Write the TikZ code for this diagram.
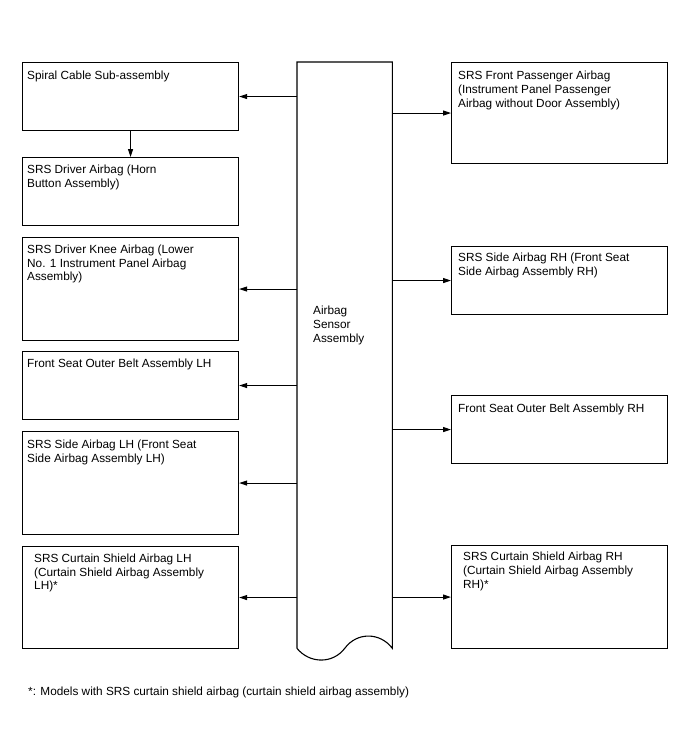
\documentclass[tikz,border=0pt]{standalone}
\usepackage{fontspec}
\setmainfont{Liberation Sans}
\usetikzlibrary{arrows.meta,positioning}
\begin{document}
\begin{tikzpicture}[x=1pt, y=-1pt, >={Triangle[length=8pt,width=5pt]},
    box/.style={draw, line width=1.1pt, rectangle, minimum width=216pt, anchor=north west, inner sep=0pt},
    lbl/.style={anchor=north west, inner sep=0pt, align=left, font=\fontsize{11.8}{13.8}\selectfont},
    link/.style={->, line width=1pt}]
      \useasboundingbox (0,0) rectangle (688,755);
      \node[minimum width=95pt, minimum height=586pt, anchor=north west, inner sep=0pt] (sensor) at (297,62) {};
      \draw[line width=1.1pt] (sensor.south west) -- (sensor.north west) -- (sensor.north east) -- (sensor.south east)
        .. controls (380,632) and (357,632) .. (345,648) .. controls (333,664) and (310,664) .. (sensor.south west);
      \node[lbl] (sensortxt) at (313,306) {Airbag\\Sensor\\Assembly};
      \node[box, minimum height=68pt] (spiral) at (22,62) {};
      \node[box, minimum height=68pt] (driver) at (22,157) {};
      \node[box, minimum height=103pt] (knee) at (22,237) {};
      \node[box, minimum height=68pt] (beltlh) at (22,351) {};
      \node[box, minimum height=103pt] (sidelh) at (22,431) {};
      \node[box, minimum height=102pt] (curtainlh) at (22,546) {};
      \node[box, minimum height=101pt] (passenger) at (451,62) {};
      \node[box, minimum height=68pt] (siderh) at (451,246) {};
      \node[box, minimum height=68pt] (beltrh) at (451,395) {};
      \node[box, minimum height=103pt] (curtainrh) at (451,545) {};
      \node[lbl, below right=8.5pt and 5pt of spiral.north west] (spiraltxt) {Spiral Cable Sub-assembly};
      \node[lbl, below right=8pt and 5pt of driver.north west] (drivertxt) {SRS Driver Airbag (Horn\\Button Assembly)};
      \node[lbl, below right=7.5pt and 5pt of knee.north west] (kneetxt) {SRS Driver Knee Airbag (Lower\\No. 1 Instrument Panel Airbag\\Assembly)};
      \node[lbl, below right=8pt and 5pt of beltlh.north west] (beltlhtxt) {Front Seat Outer Belt Assembly LH};
      \node[lbl, below right=8.5pt and 5pt of sidelh.north west] (sidelhtxt) {SRS Side Airbag LH (Front Seat\\Side Airbag Assembly LH)};
      \node[lbl, below right=7.5pt and 12pt of curtainlh.north west] (curtainlhtxt) {SRS Curtain Shield Airbag LH\\(Curtain Shield Airbag Assembly\\LH)*};
      \node[lbl, below right=9pt and 7pt of passenger.north west] (passengertxt) {SRS Front Passenger Airbag\\(Instrument Panel Passenger\\Airbag without Door Assembly)};
      \node[lbl, below right=7pt and 7pt of siderh.north west] (siderhtxt) {SRS Side Airbag RH (Front Seat\\Side Airbag Assembly RH)};
      \node[lbl, below right=9pt and 7pt of beltrh.north west] (beltrhtxt) {Front Seat Outer Belt Assembly RH};
      \node[lbl, below right=7pt and 12pt of curtainrh.north west] (curtainrhtxt) {SRS Curtain Shield Airbag RH\\(Curtain Shield Airbag Assembly\\RH)*};
      \draw[link] (spiral.east -| sensor.west) -- (spiral.east);
      \draw[link] (spiral.south) -- (driver.north);
      \draw[link] (knee.east -| sensor.west) -- (knee.east);
      \draw[link] (beltlh.east -| sensor.west) -- (beltlh.east);
      \draw[link] (sidelh.east -| sensor.west) -- (sidelh.east);
      \draw[link] (curtainlh.east -| sensor.west) -- (curtainlh.east);
      \draw[link] (passenger.west -| sensor.east) -- (passenger.west);
      \draw[link] (siderh.west -| sensor.east) -- (siderh.west);
      \draw[link] (beltrh.west -| sensor.east) -- (beltrh.west);
      \draw[link] (curtainrh.west -| sensor.east) -- (curtainrh.west);
      \node[lbl, anchor=west] (note) at (28,692) {*: Models with SRS curtain shield airbag (curtain shield airbag assembly)};
    \end{tikzpicture}
\end{document}
